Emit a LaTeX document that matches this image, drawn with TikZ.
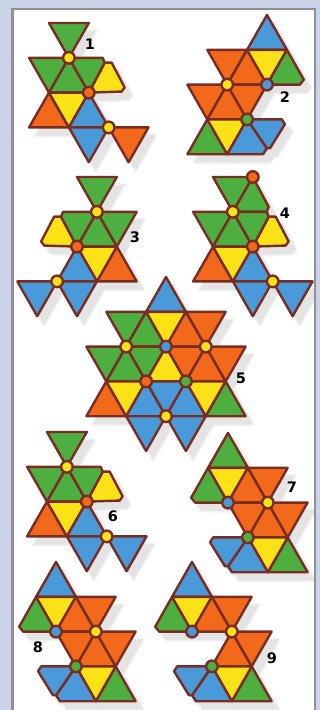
\documentclass[tikz,border=0pt]{standalone}
\usepackage{fontspec}
\setmainfont{DejaVu Sans}
\definecolor{edge}{HTML}{7A2C22}
\definecolor{gr}{HTML}{4CAF3F}
\definecolor{ye}{HTML}{FBE216}
\definecolor{or}{HTML}{F2691C}
\definecolor{bl}{HTML}{4A9ADA}
\definecolor{pagebg}{HTML}{CBD4E6}
\definecolor{frame}{HTML}{8D9199}
\definecolor{shadA}{HTML}{F3F3F3}
\definecolor{shadB}{HTML}{E4E4E4}
\tikzset{
  piece/.style={fill=#1,draw=edge,line width=2.4pt,line join=round},
  vdot/.style={fill=#1,draw=edge,line width=2.4pt},
  numlabel/.style={font=\bfseries\fontsize{14.5}{15}\selectfont,text=black,inner sep=0pt}
}
\newcommand\TriPoly[2]{\path[piece=#1] #2 -- cycle;}
\newcommand\TriDn[3]{\TriPoly{#1}{(#2,#3) -- ({#2+2},#3) -- ({#2+1},{#3+1})}}
\newcommand\TriUp[3]{\TriPoly{#1}{(#2,#3) -- ({#2-1},{#3+1}) -- ({#2+1},{#3+1})}}
\newcommand\VDot[3]{\path[vdot=#1] (#2,#3) circle[radius=5.8pt];}
\newcommand\Lat[3]{\begin{scope}[shift={(#1,#2)},x=19.9pt,y=-34.8pt] #3 \end{scope}}
% upper block of figures 1, 4 and 6
\newcommand\BlockRight[1]{%
  \TriDn{gr}{-1}{1}\TriUp{gr}{1}{1}
  \TriPoly{ye}{(2,2) -- (3.65,1.97) -- (3.8,1.85) -- (3.15,1.14) -- (2.8,1.14)}
  \TriPoly{gr}{(1,1) -- (2.7,1) -- (2.8,1.14) -- (2,2)}
  \TriUp{or}{0}{2}\TriDn{ye}{0}{2}\TriUp{bl}{2}{2}
  \TriDn{bl}{1}{3}\TriDn{#1}{3}{3}
  \VDot{ye}{1}{1}\VDot{or}{2}{2}\VDot{ye}{3}{3}}
% figures 7, 8, 9 lower block
\newcommand\BlockLow[1]{%
  \TriUp{#1}{0}{0}
  \TriPoly{gr}{(-1,1) -- (0,2) -- (-1.65,2) -- (-1.85,1.86)}
  \TriDn{ye}{-1}{1}\TriUp{or}{1}{1}\TriDn{or}{1}{1}
  \TriUp{or}{2}{2}\TriDn{or}{2}{2}
  \TriUp{gr}{3}{3}\TriDn{ye}{1}{3}
  \TriPoly{bl}{(1,3) -- (2,4) -- (0.2,4) -- (0,3.83)}
  \TriPoly{bl}{(1,3) -- (-0.75,3) -- (-0.9,3.14) -- (-0.15,3.83) -- (0,3.83)}}
\newcommand\AllFigures{%
  \Lat{49}{23}{\TriDn{gr}{0}{0}\BlockRight{or}}
  \Lat{267}{15}{%
    \TriUp{bl}{0}{0}
    \TriDn{or}{-3}{1}\TriUp{or}{-1}{1}\TriDn{ye}{-1}{1}
    \TriPoly{gr}{(1,1) -- (0,2) -- (1.65,2) -- (1.85,1.86)}
    \TriDn{or}{-4}{2}\TriUp{or}{-2}{2}\TriDn{or}{-2}{2}
    \TriUp{gr}{-3}{3}\TriDn{ye}{-3}{3}
    \TriPoly{bl}{(-1,3) -- (-2,4) -- (-0.2,4) -- (0,3.83)}
    \TriPoly{bl}{(-1,3) -- (0.75,3) -- (0.9,3.14) -- (0.15,3.83) -- (0,3.83)}
    \VDot{ye}{-2}{2}\VDot{bl}{0}{2}\VDot{gr}{-1}{3}}
  \Lat{77}{177}{%
    \TriDn{gr}{0}{0}\TriDn{gr}{1}{1}\TriUp{gr}{1}{1}
    \TriPoly{ye}{(0,2) -- (-1.65,1.97) -- (-1.8,1.85) -- (-1.15,1.14) -- (-0.8,1.14)}
    \TriPoly{gr}{(1,1) -- (-0.7,1) -- (-0.8,1.14) -- (0,2)}
    \TriUp{or}{2}{2}\TriDn{ye}{0}{2}\TriUp{bl}{0}{2}
    \TriDn{bl}{-1}{3}\TriDn{bl}{-3}{3}
    \VDot{ye}{1}{1}\VDot{or}{0}{2}\VDot{ye}{-1}{3}}
  \Lat{213}{177}{%
    \TriDn{gr}{0}{0}
    \TriPoly{gr}{(2,0) -- (2.8,0.86) -- (2.7,1) -- (1,1)}
    \BlockRight{bl}
    \VDot{or}{2}{0}}
  \Lat{166}{277}{%
    \TriUp{bl}{0}{0}
    \TriDn{gr}{-3}{1}\TriUp{gr}{-1}{1}\TriDn{ye}{-1}{1}\TriUp{or}{1}{1}\TriDn{or}{1}{1}
    \TriDn{gr}{-4}{2}\TriUp{gr}{-2}{2}\TriDn{gr}{-2}{2}\TriUp{ye}{0}{2}\TriDn{or}{0}{2}\TriUp{or}{2}{2}\TriDn{or}{2}{2}
    \TriUp{or}{-3}{3}\TriDn{ye}{-3}{3}\TriUp{bl}{-1}{3}\TriDn{bl}{-1}{3}\TriUp{bl}{1}{3}\TriDn{ye}{1}{3}\TriUp{gr}{3}{3}
    \TriDn{bl}{-2}{4}\TriDn{bl}{0}{4}
    \VDot{ye}{-2}{2}\VDot{bl}{0}{2}\VDot{ye}{2}{2}\VDot{or}{-1}{3}\VDot{gr}{1}{3}\VDot{ye}{0}{4}}
  \Lat{47}{432}{\TriDn{gr}{0}{0}\BlockRight{bl}}
  \Lat{228}{433}{\BlockLow{gr}\TriDn{or}{0}{2}\VDot{bl}{0}{2}\VDot{ye}{2}{2}\VDot{gr}{1}{3}}
  \Lat{56}{562}{\BlockLow{bl}\TriDn{or}{0}{2}\VDot{bl}{0}{2}\VDot{ye}{2}{2}\VDot{gr}{1}{3}}
  \Lat{192}{562}{\BlockLow{bl}\VDot{bl}{0}{2}\VDot{ye}{2}{2}\VDot{gr}{1}{3}}}
\begin{document}
\begin{tikzpicture}[x=1pt,y=-1pt]
\useasboundingbox (0,0) rectangle (320,710);
\fill[pagebg] (0,0) rectangle (320,710);
\fill[white] (12.5,9) rectangle (315,716);
\begin{scope}
\clip (12.5,9) rectangle (315,716);
\begin{scope}[shift={(7,8)},
  piece/.style={fill=shadA,draw=shadA,line width=4pt,line join=round},vdot/.style={}]
  \AllFigures
\end{scope}
\begin{scope}[shift={(7,8)},
  piece/.style={fill=shadB,draw=shadB,line width=0.5pt,line join=round},vdot/.style={}]
  \AllFigures
\end{scope}
\end{scope}
\draw[frame,line width=2.6pt] (12.5,9) rectangle (315,716);
\AllFigures
\node[numlabel] (n1) at (90,44) {1};
\node[numlabel] (n2) at (285,97) {2};
\node[numlabel] (n3) at (135,237) {3};
\node[numlabel] (n4) at (285,213) {4};
\node[numlabel] (n5) at (241,378) {5};
\node[numlabel] (n6) at (113,516) {6};
\node[numlabel] (n7) at (292,487) {7};
\node[numlabel] (n8) at (38,647) {8};
\node[numlabel] (n9) at (272,658) {9};
\end{tikzpicture}
\end{document}
